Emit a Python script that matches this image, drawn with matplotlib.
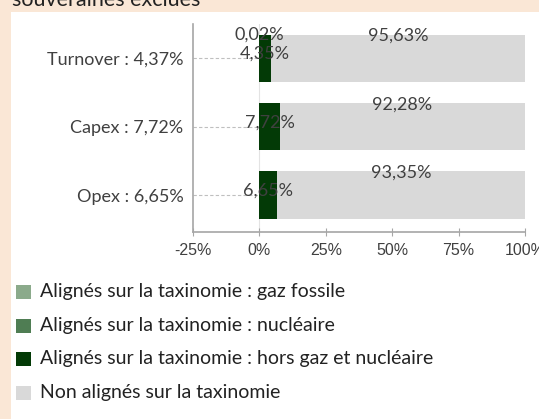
import numpy as np
import matplotlib.pyplot as plt
from matplotlib.patches import Rectangle

# categories and shares (%)
categories = ["Turnover : 4,37%", "Capex : 7,72%", "Opex : 6,65%"]
gaz_fossile = [0.00, 0.00, 0.00]
nucleaire = [0.02, 0.00, 0.00]
hors_gaz_nucl = [4.35, 7.72, 6.65]
non_alignes = [95.63, 92.28, 93.35]

series_names = ["Alignés sur la taxinomie : gaz fossile",
                "Alignés sur la taxinomie : nucléaire",
                "Alignés sur la taxinomie : hors gaz et nucléaire",
                "Non alignés sur la taxinomie"]
colors = ["#8BAA8B", "#4F7D53", "#033A06", "#D9D9D9"]

xticks = [-25, 0, 25, 50, 75, 100]
xtick_labels = ["-25%", "0%", "25%", "50%", "75%", "100%"]

FONT = "Lato"
TXT = "#404040"


def pct(v):
    return f"{v:.2f}%".replace(".", ",")


W, H = 539, 419
fig = plt.figure(figsize=(W / 100, H / 100), dpi=100, facecolor="#FAE7D6")
# white panel inside the peach frame
fig.patches.append(Rectangle((11 / W, 0), 1, 1 - 12 / H, transform=fig.transFigure,
                             facecolor="white", edgecolor="none", zorder=-5))
# cut-off title line at the top
fig.text(12 / W, 1 - 6 / H, "souveraines exclues", fontsize=15.5, family=FONT,
         color="#222222", va="baseline", ha="left")

ax = fig.add_axes([193 / W, 1 - 232 / H, (525 - 193) / W, (232 - 24) / H])
ax.set_facecolor("none")
ax.set_zorder(2)

y = np.arange(len(categories))
h = 0.69
left = np.zeros(len(categories))
for vals, c in zip([gaz_fossile, nucleaire, hors_gaz_nucl, non_alignes], colors):
    ax.barh(y, vals, left=left, height=h, color=c, zorder=2)
    left = left + np.array(vals)

# leader lines and zero line
for yi in y:
    ax.plot([-25, 0], [yi, yi], color="#BFBFBF", lw=0.8, ls=(0, (3, 2)), zorder=1)
ax.axvline(0, color="#E3E3E3", lw=0.8, zorder=1)

# data labels
lab_kw = dict(fontsize=13, family=FONT, color=TXT, zorder=3)
for i in y:
    aligned = gaz_fossile[i] + nucleaire[i] + hors_gaz_nucl[i]
    ax.text(aligned / 2, i - 0.06, pct(hors_gaz_nucl[i]), ha="center", va="center", **lab_kw)
    ax.text(aligned + non_alignes[i] / 2, i - h / 2 + 0.02, pct(non_alignes[i]),
            ha="center", va="center", **lab_kw)
    if nucleaire[i] > 0:
        ax.text(0, i - h / 2 + 0.0, pct(nucleaire[i]), ha="center", va="center", **lab_kw)

ax.set_xlim(-25, 100)
ax.set_ylim(2.54, -0.5)
ax.set_xticks(xticks)
ax.set_xticklabels(xtick_labels, fontsize=11.5, family="Liberation Sans", color=TXT)
ax.set_yticks(y)
ax.set_yticklabels(categories, fontsize=13, family=FONT, color=TXT)
ax.tick_params(axis="y", length=0, pad=7)
ax.tick_params(axis="x", length=6, direction="inout", color="#A6A6A6", pad=5)
for s in ["top", "right"]:
    ax.spines[s].set_visible(False)
for s in ["left", "bottom"]:
    ax.spines[s].set_color("#A6A6A6")
    ax.spines[s].set_linewidth(1.2)

# legend drawn by hand below the plot
leg_y = [291, 325, 358, 392]
for ly, name, c in zip(leg_y, series_names, colors):
    fig.patches.append(Rectangle((16 / W, 1 - (ly + 8) / H), 15 / W, 14 / H,
                                 transform=fig.transFigure, facecolor=c, edgecolor="none"))
    fig.text(40 / W, 1 - ly / H, name, fontsize=14, family=FONT, color="#222222",
             va="center", ha="left")

fig.savefig("out.png", dpi=100, facecolor=fig.get_facecolor())
